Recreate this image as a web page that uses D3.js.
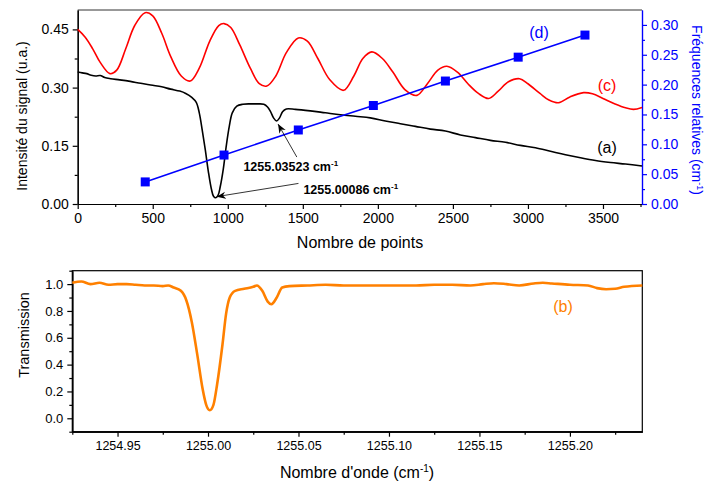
<!DOCTYPE html>
<html><head><meta charset="utf-8">
<script src="https://cdn.jsdelivr.net/npm/d3@7/dist/d3.min.js"></script>
<style>body{margin:0;background:#fff}svg{display:block;font-family:Arial,"Liberation Sans",sans-serif}</style>
</head><body><svg id="c" width="706" height="485"></svg>
<script>
// ---- data ----
const seriesA = [[0,0.340],[30,0.338],[60,0.336],[90,0.332],[120,0.330],[150,0.331],[180,0.326],[220,0.323],[280,0.320],[350,0.316],[420,0.311],[500,0.306],[560,0.302],[620,0.296],[680,0.291],[720,0.285],[760,0.275],[790,0.262],[810,0.235],[830,0.19],[850,0.14],[870,0.085],[890,0.04],[905,0.02],[920,0.016],[935,0.022],[950,0.045],[970,0.09],[990,0.15],[1010,0.2],[1030,0.235],[1060,0.252],[1100,0.257],[1150,0.258],[1200,0.258],[1240,0.257],[1265,0.25],[1285,0.238],[1305,0.222],[1325,0.214],[1345,0.222],[1365,0.238],[1390,0.245],[1450,0.244],[1550,0.24],[1650,0.235],[1750,0.23],[1850,0.226],[1950,0.222],[2050,0.214],[2150,0.207],[2250,0.2],[2350,0.193],[2450,0.188],[2550,0.178],[2650,0.171],[2750,0.164],[2850,0.159],[2950,0.151],[3050,0.145],[3150,0.136],[3250,0.127],[3350,0.119],[3450,0.112],[3550,0.107],[3650,0.103],[3760,0.098]];
const seriesC = [[0,0.45],[50,0.43],[100,0.40],[150,0.365],[215,0.336],[260,0.345],[320,0.40],[380,0.46],[449,0.493],[500,0.485],[560,0.44],[620,0.38],[690,0.33],[750,0.317],[810,0.35],[880,0.42],[940,0.46],[975,0.465],[1020,0.455],[1080,0.41],[1150,0.35],[1210,0.31],[1260,0.304],[1320,0.33],[1390,0.39],[1470,0.428],[1530,0.42],[1600,0.375],[1680,0.32],[1771,0.293],[1840,0.33],[1900,0.375],[1960,0.392],[2030,0.375],[2100,0.34],[2180,0.295],[2260,0.28],[2330,0.31],[2400,0.345],[2460,0.355],[2530,0.34],[2600,0.31],[2670,0.285],[2738,0.272],[2800,0.29],[2870,0.315],[2944,0.323],[3000,0.31],[3080,0.285],[3140,0.268],[3204,0.261],[3280,0.276],[3371,0.287],[3430,0.284],[3500,0.272],[3580,0.258],[3650,0.248],[3704,0.244],[3760,0.249]];
const seriesD = [[450,0.037],[975,0.082],[1470,0.124],[1970,0.165],[2450,0.206],[2935,0.246],[3380,0.283]];
const seriesB = [[1254.925,1.01],[1254.930,1.02],[1254.935,1.0],[1254.940,1.01],[1254.945,0.995],[1254.950,1.0],[1254.955,1.0],[1254.960,0.995],[1254.965,0.99],[1254.970,0.99],[1254.975,0.985],[1254.978,0.99],[1254.981,0.975],[1254.985,0.95],[1254.988,0.88],[1254.991,0.72],[1254.994,0.48],[1254.997,0.22],[1254.999,0.1],[1255.001,0.06],[1255.003,0.1],[1255.005,0.25],[1255.008,0.55],[1255.010,0.78],[1255.012,0.9],[1255.015,0.95],[1255.020,0.965],[1255.025,0.98],[1255.027,0.99],[1255.030,0.95],[1255.033,0.87],[1255.035,0.85],[1255.038,0.9],[1255.041,0.975],[1255.045,0.985],[1255.055,0.99],[1255.065,0.995],[1255.075,0.99],[1255.085,0.99],[1255.095,0.99],[1255.105,0.99],[1255.115,0.99],[1255.125,0.995],[1255.135,0.995],[1255.145,0.99],[1255.152,1.0],[1255.158,1.007],[1255.165,1.0],[1255.172,0.99],[1255.180,1.005],[1255.185,1.01],[1255.19,1.005],[1255.2,0.995],[1255.21,0.99],[1255.215,0.97],[1255.22,0.962],[1255.225,0.965],[1255.23,0.98],[1255.24,0.99]];
const topXTicks = [0,500,1000,1500,2000,2500,3000,3500];
const topXMinor = [250,750,1250,1750,2250,2750,3250,3750];
const leftTicks = [0,0.15,0.30,0.45];
const leftMinor = [0.075,0.225,0.375];
const rightTicks = [0,0.05,0.10,0.15,0.20,0.25,0.30];
const rightMinor = [0.025,0.075,0.125,0.175,0.225,0.275];
const botXTicks = [1254.95,1255.00,1255.05,1255.10,1255.15,1255.20];
const botXMinor = [1254.925,1254.975,1255.025,1255.075,1255.125,1255.175,1255.225];
const botYTicks = [0,0.2,0.4,0.6,0.8,1.0];
const botYMinor = [-0.1,0.1,0.3,0.5,0.7,0.9,1.1];

const svg = d3.select("#c");
// ---- top chart ----
const x = d3.scaleLinear().domain([0,3760]).range([77.7,642]);
const yL = d3.scaleLinear().domain([0,0.5]).range([204,10]);
const yR = d3.scaleLinear().domain([0,0.325]).range([204,10]);

svg.append("line").attr("x1",x.range()[0]).attr("x2",x.range()[1]).attr("y1",10).attr("y2",10).attr("stroke","#333").attr("stroke-width",1);

function axis(g, ax, vals, size, fmt, color, fs){
  g.call(ax.tickValues(vals).tickSize(size).tickSizeOuter(0).tickFormat(fmt).tickPadding(4));
  g.selectAll("path,line").attr("stroke",color).attr("stroke-width",1.2);
  g.selectAll("text").attr("fill",color).attr("font-size",fs).attr("font-family","Arial, 'Liberation Sans', sans-serif");
}
const f2 = d3.format(".2f"), f1 = d3.format(".1f");
axis(svg.append("g").attr("transform","translate(0,204)"), d3.axisBottom(x), topXMinor, 3, "", "#000", 14);
axis(svg.append("g").attr("transform","translate(0,204)"), d3.axisBottom(x), topXTicks, 5, d3.format("d"), "#000", 14);
axis(svg.append("g").attr("transform","translate(77.7,0)"), d3.axisLeft(yL), leftMinor, 3, "", "#000", 14);
axis(svg.append("g").attr("transform","translate(77.7,0)"), d3.axisLeft(yL), leftTicks, 5, f2, "#000", 14);
axis(svg.append("g").attr("transform","translate(642,0)"), d3.axisRight(yR), rightMinor, 3, "", "#0000ff", 14);
axis(svg.append("g").attr("transform","translate(642,0)"), d3.axisRight(yR), rightTicks, 5, f2, "#0000ff", 14);

const lineL = d3.line().x(d=>x(d[0])).y(d=>yL(d[1])).curve(d3.curveCatmullRom.alpha(0.5));
const lineR = d3.line().x(d=>x(d[0])).y(d=>yR(d[1]));
svg.append("path").attr("d",lineL(seriesC)).attr("fill","none").attr("stroke","#ff0000").attr("stroke-width",1.6);
svg.append("path").attr("d",lineL(seriesA)).attr("fill","none").attr("stroke","#000").attr("stroke-width",1.6);
svg.append("path").attr("d",lineR(seriesD)).attr("fill","none").attr("stroke","#0000ff").attr("stroke-width",1.6);
svg.selectAll("rect.d").data(seriesD).enter().append("rect")
  .attr("x",d=>x(d[0])-4.5).attr("y",d=>yR(d[1])-4.5).attr("width",9).attr("height",9).attr("fill","#0000ff");

// arrows
svg.append("defs").append("marker").attr("id","ah").attr("viewBox","0 0 10 10").attr("refX",10).attr("refY",5)
  .attr("markerWidth",9).attr("markerHeight",9).attr("markerUnits","userSpaceOnUse").attr("orient","auto")
  .append("path").attr("d","M0,1 L10,5 L0,9 L3,5 Z").attr("fill","#000");
const arrows = [[[1460,0.121],[1335,0.206]],[[1471,0.053],[926,0.019]]];
arrows.forEach(a=>{
  svg.append("line").attr("x1",x(a[0][0])).attr("y1",yL(a[0][1])).attr("x2",x(a[1][0])).attr("y2",yL(a[1][1]))
    .attr("stroke","#000").attr("stroke-width",0.8).attr("marker-end","url(#ah)");
});
function ann(px,py,txt){
  const t = svg.append("text").attr("x",px).attr("y",py).attr("font-size",12.5).attr("font-weight","bold").attr("fill","#000");
  t.append("tspan").text(txt+" cm");
  t.append("tspan").attr("dy",-5).attr("font-size",8).text("-1");
}
ann(x(1104),yL(0.085),"1255.03523");
ann(x(1504),yL(0.026),"1255.00086");

svg.append("text").attr("x",539).attr("y",38).attr("fill","#0000ff").attr("font-size",16).attr("text-anchor","middle").text("(d)");
svg.append("text").attr("x",607).attr("y",91).attr("fill","#ff0000").attr("font-size",16).attr("text-anchor","middle").text("(c)");
svg.append("text").attr("x",607).attr("y",153).attr("fill","#000").attr("font-size",16).attr("text-anchor","middle").text("(a)");

svg.append("text").attr("x",360).attr("y",248).attr("font-size",16).attr("text-anchor","middle").text("Nombre de points");
svg.append("text").attr("transform","translate(27,116) rotate(-90)").attr("font-size",14).attr("text-anchor","middle").text("Intensité du signal (u.a.)");
const rl = svg.append("text").attr("transform","translate(692,110) rotate(90)").attr("font-size",14).attr("text-anchor","middle").attr("fill","#0000ff");
rl.append("tspan").text("Fréquences relatives (cm");
rl.append("tspan").attr("dy",-5).attr("font-size",9).text("-1");
rl.append("tspan").attr("dy",5).text(")");

// ---- bottom chart ----
const x2 = d3.scaleLinear().domain([1254.925,1255.24]).range([72.3,642.3]);
const y2 = d3.scaleLinear().domain([-0.1,1.1]).range([431.7,270.7]);
svg.append("rect").attr("x",72.3).attr("y",270.7).attr("width",570).attr("height",161).attr("fill","none").attr("stroke","#000").attr("stroke-width",1.2);
axis(svg.append("g").attr("transform","translate(0,431.7)"), d3.axisBottom(x2), botXMinor, 3, "", "#000", 12.5);
axis(svg.append("g").attr("transform","translate(0,431.7)"), d3.axisBottom(x2), botXTicks, 5, f2, "#000", 12.5);
axis(svg.append("g").attr("transform","translate(72.3,0)"), d3.axisLeft(y2), botYMinor, 3, "", "#000", 13);
axis(svg.append("g").attr("transform","translate(72.3,0)"), d3.axisLeft(y2), botYTicks, 5, f1, "#000", 13);
const line2 = d3.line().x(d=>x2(d[0])).y(d=>y2(d[1])).curve(d3.curveMonotoneX);
svg.append("path").attr("d",line2(seriesB)).attr("fill","none").attr("stroke","#ff8000").attr("stroke-width",2.6);
svg.append("text").attr("x",563).attr("y",312).attr("fill","#ff8000").attr("font-size",16).attr("text-anchor","middle").text("(b)");
const bl = svg.append("text").attr("x",357).attr("y",478).attr("font-size",16).attr("text-anchor","middle");
bl.append("tspan").text("Nombre d'onde (cm");
bl.append("tspan").attr("dy",-6).attr("font-size",10).text("-1");
bl.append("tspan").attr("dy",6).text(")");
svg.append("text").attr("transform","translate(29,335) rotate(-90)").attr("font-size",14.5).attr("text-anchor","middle").text("Transmission");
</script></body></html>
